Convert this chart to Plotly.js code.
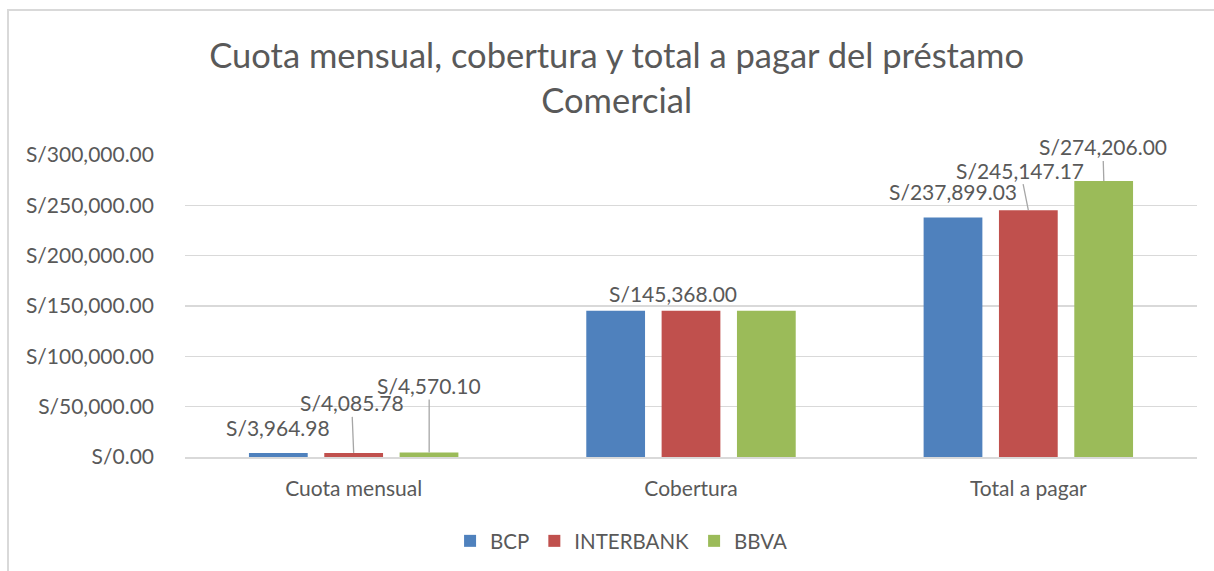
<!DOCTYPE html>
<html>
<head>
<meta charset="utf-8">
<script src="https://cdn.plot.ly/plotly-3.0.1.min.js"></script>
<style>
  html, body { margin: 0; padding: 0; background: #fff; }
  #frame { position: absolute; left: 7px; top: 9px; width: 1207px; height: 562px;
           border-left: 2px solid #d9d9d9; border-top: 2px solid #d9d9d9; }
  #chart { position: absolute; left: 0; top: 0; width: 1214px; height: 571px; }
</style>
</head>
<body>
<div id="frame"></div>
<div id="chart"></div>
<script>
const categories = ['Cuota mensual', 'Cobertura', 'Total a pagar'];
const seriesNames = ['BCP', 'INTERBANK', 'BBVA'];
const bcp = [3964.98, 145368.00, 237899.03];
const interbank = [4085.78, 145368.00, 245147.17];
const bbva = [4570.10, 145368.00, 274206.00];
const colors = ['#4f81bd', '#c0504d', '#9bbb59'];

const fontFam = 'Lato, "Open Sans", sans-serif';
const grey = '#595959';

const allValues = [bcp, interbank, bbva];
const traces = allValues.map((vals, i) => ({
  type: 'bar',
  name: seriesNames[i],
  x: categories,
  y: vals,
  marker: { color: colors[i] },
  hoverinfo: 'y'
}));

function fmt(v) {
  return 'S/' + v.toLocaleString('en-US', { minimumFractionDigits: 2, maximumFractionDigits: 2 });
}

const slot = 75.5;
// label placement: [seriesIndex, categoryIndex, arrow?, ax, ay]
const labelSpecs = [
  [0, 0, false, 0, 26],
  [1, 0, true, -2, -50],
  [2, 0, true, 0, -67],
  [1, 1, false, -18, 17],
  [0, 2, false, 0, 26],
  [1, 2, true, -8, -40],
  [2, 2, true, -1, -34]
];
const annotations = labelSpecs.map(([s, c, arrow, ax, ay]) => {
  const base = {
    x: categories[c],
    y: allValues[s][c],
    xref: 'x', yref: 'y',
    text: fmt(allValues[s][c]),
    font: { family: fontFam, size: 21, color: grey },
    xshift: (s - 1) * slot
  };
  if (arrow) {
    return Object.assign(base, {
      showarrow: true, arrowhead: 0, arrowwidth: 1.3, arrowcolor: '#a6a6a6',
      ax: ax, ay: ay, standoff: 0, startstandoff: 0
    });
  }
  return Object.assign(base, { showarrow: false, xshift: base.xshift + ax, yshift: ay });
});

const layout = {
  width: 1214, height: 571,
  paper_bgcolor: 'rgba(0,0,0,0)', plot_bgcolor: 'rgba(0,0,0,0)',
  margin: { l: 185, r: 17, t: 155, b: 114 },
  font: { family: fontFam, color: grey },
  title: {
    text: 'Cuota mensual, cobertura y total a pagar del préstamo<br>Comercial',
    font: { family: fontFam, size: 34.5, color: grey },
    x: 0.508, xref: 'container', xanchor: 'center',
    y: 0.881, yref: 'container', yanchor: 'top'
  },
  barmode: 'group',
  bargap: 0.33,
  bargroupgap: 0.22,
  xaxis: {
    type: 'category',
    tickfont: { family: fontFam, size: 21, color: grey },
    showline: true, linecolor: '#d9d9d9', linewidth: 1.5,
    ticks: '', showgrid: false, ticklabelstandoff: 12
  },
  yaxis: {
    range: [0, 300000],
    dtick: 50000,
    tickprefix: 'S/',
    tickformat: ',.2f',
    tickfont: { family: fontFam, size: 21, color: grey },
    gridcolor: '#d9d9d9', gridwidth: 1.5,
    zeroline: false, showline: false,
    ticks: '', ticklabelstandoff: 30
  },
  showlegend: true,
  legend: {
    orientation: 'h',
    x: 0.512, xref: 'container', xanchor: 'center',
    y: 0.0525, yref: 'container', yanchor: 'middle',
    font: { family: fontFam, size: 20.5, color: grey },
    itemwidth: 30
  },
  annotations: annotations
};

Plotly.newPlot('chart', traces, layout, { displayModeBar: false, staticPlot: true });
</script>
</body>
</html>
